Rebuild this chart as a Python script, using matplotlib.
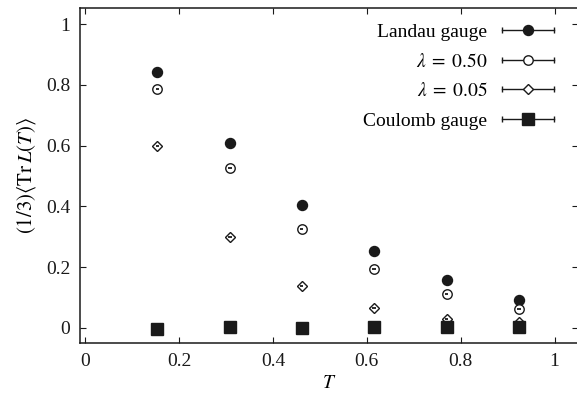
import matplotlib
matplotlib.use("Agg")
import matplotlib.pyplot as plt
from matplotlib.lines import Line2D
from matplotlib.legend_handler import HandlerBase

plt.rcParams["font.family"] = ["Liberation Serif", "DejaVu Serif"]
plt.rcParams["mathtext.fontset"] = "stix"
plt.rcParams["font.size"] = 14

# data
T = [0.154, 0.308, 0.461, 0.616, 0.770, 0.924]
landau = [0.842, 0.607, 0.405, 0.254, 0.156, 0.092]
lam050 = [0.786, 0.526, 0.325, 0.193, 0.111, 0.061]
lam005 = [0.599, 0.300, 0.139, 0.065, 0.030, 0.018]
coulomb = [-0.004, 0.002, -0.001, 0.002, 0.002, 0.002]
T_err = [0.004] * 6

INK = "#1a1a1a"

series = [
    ("Landau gauge", landau, dict(marker="o", mfc=INK, mec=INK, ms=7.2)),
    (r"$\lambda \;=\; 0.50$", lam050, dict(marker="o", mfc="white", mec=INK, ms=6.8, mew=1.0)),
    (r"$\lambda \;=\; 0.05$", lam005, dict(marker="D", mfc="white", mec=INK, ms=5.0, mew=1.0)),
    ("Coulomb gauge", coulomb, dict(marker="s", mfc=INK, mec=INK, ms=8.0)),
]


class HandlerCappedBar(HandlerBase):
    # gnuplot-like key sample: horizontal bar with end ticks and the symbol in the middle
    def create_artists(self, legend, orig_handle, xdescent, ydescent,
                       width, height, fontsize, trans):
        y = height / 2 - ydescent
        x0, x1 = -xdescent, width - xdescent
        bar = Line2D([x0, x1], [y, y], color=INK, lw=1.0)
        caps = Line2D([x0, x1], [y, y], ls="none", marker="|", ms=5, mew=1.0, color=INK)
        mark = Line2D([(x0 + x1) / 2], [y])
        mark.update_from(orig_handle)
        for a in (bar, caps, mark):
            a.set_transform(trans)
        return [bar, caps, mark]


fig = plt.figure(figsize=(5.77, 4.01), dpi=100)
ax = fig.add_axes([80 / 577, 58 / 401, 498 / 577, 335 / 401])

handles, labels = [], []
for label, vals, style in series:
    (pts,) = ax.plot(T, vals, ls="none", zorder=3, **style)
    ax.errorbar(T, vals, xerr=T_err, fmt="none", ecolor=INK, elinewidth=1.3, capsize=0, zorder=4)
    handles.append(pts)
    labels.append(label)

ax.set_xlim(-0.011, 1.05)
ax.set_ylim(-0.05, 1.053)
ax.set_xticks([0, 0.2, 0.4, 0.6, 0.8, 1])
ax.set_xticklabels(["0", "0.2", "0.4", "0.6", "0.8", "1"])
ax.set_yticks([0, 0.2, 0.4, 0.6, 0.8, 1])
ax.set_yticklabels(["0", "0.2", "0.4", "0.6", "0.8", "1"])
ax.tick_params(direction="in", length=4, width=0.8, top=True, right=True,
               labelsize=14, pad=7, colors=INK)
for s in ax.spines.values():
    s.set_linewidth(1.1)
    s.set_color(INK)

ax.set_xlabel(r"$T$", fontsize=14, labelpad=4)
ax.set_ylabel(r"$(1/3)\langle\mathrm{Tr}\,L(T)\rangle$", fontsize=15, labelpad=6)

ax.legend(handles, labels, loc="upper right", bbox_to_anchor=(0.98, 0.995),
          frameon=False, markerfirst=False, handlelength=2.7, handletextpad=0.75,
          labelspacing=0.6, borderaxespad=0.3, fontsize=14,
          handler_map={Line2D: HandlerCappedBar()})

fig.savefig("out.png", dpi=100)
